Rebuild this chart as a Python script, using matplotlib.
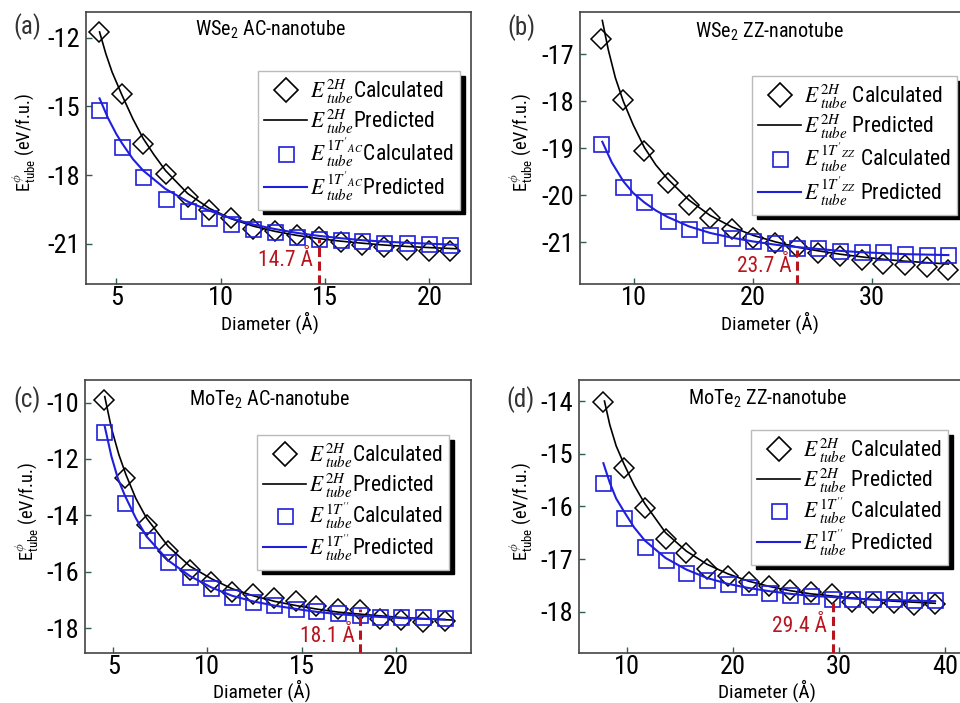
import matplotlib
matplotlib.use("Agg")
import matplotlib.pyplot as plt
import matplotlib.font_manager as fm
from matplotlib.lines import Line2D

# pick a narrow sans face if one is installed
_names = {f.name for f in fm.fontManager.ttflist}
_narrow = None
_stretch = 'normal'
for c in ['Liberation Sans Narrow', 'Arial Narrow', 'Roboto Condensed', 'Open Sans Condensed',
          'Noto Sans Condensed', 'DejaVu Sans Condensed']:
    if c in _names:
        _narrow = c
        break
if _narrow is None:
    for f in fm.fontManager.ttflist:
        if str(f.stretch) in ('condensed', 'semi-condensed') and f.style == 'normal' and \
                f.name in ('Roboto', 'Noto Sans', 'Open Sans', 'DejaVu Sans', 'Liberation Sans', 'Lato', 'Inter'):
            _narrow = f.name
            _stretch = str(f.stretch)
            break
if _narrow is None:
    _narrow = 'Liberation Sans'
    _scale = 0.86
else:
    _scale = 1.0

plt.rcParams['font.family'] = [_narrow, 'Liberation Sans', 'DejaVu Sans']
plt.rcParams['font.stretch'] = _stretch
plt.rcParams['axes.unicode_minus'] = False
plt.rcParams['mathtext.fontset'] = 'custom'
plt.rcParams['mathtext.rm'] = _narrow
plt.rcParams['mathtext.it'] = _narrow + ':italic'
plt.rcParams['mathtext.bf'] = _narrow + ':bold'

# ---------------- data ----------------
# (a) WSe2 AC
diam_a = [4.17, 5.27, 6.29, 7.36, 8.42, 9.46, 10.5, 11.55, 12.59, 13.66, 14.71, 15.75, 16.8, 17.84, 18.91, 19.98, 21.0]
e2h_a = [-11.76, -14.47, -16.64, -17.97, -18.95, -19.53, -19.89, -20.33, -20.43, -20.62, -20.69, -20.91, -21.06, -21.13, -21.27, -21.33, -21.3]
e1t_a = [-15.16, -16.76, -18.07, -19.02, -19.56, -19.85, -20.15, -20.35, -20.5, -20.72, -20.77, -20.81, -20.87, -20.94, -20.97, -21.0, -21.03]
pred2h_x_a = [4.2, 4.5, 4.8, 5.27, 5.8, 6.29, 6.8, 7.36, 8.42, 9.46, 10.5, 11.55, 12.59, 13.66, 14.71, 15.75, 16.8, 17.84, 18.91, 19.98, 21.0, 21.3]
pred2h_y_a = [-11.75, -12.7, -13.5, -14.5, -15.55, -16.4, -17.1, -17.8, -18.8, -19.45, -19.9, -20.22, -20.45, -20.63, -20.77, -20.88, -20.97, -21.05, -21.11, -21.16, -21.2, -21.21]
pred1t_x_a = [4.2, 4.6, 5.0, 5.27, 5.8, 6.29, 7.36, 8.42, 9.46, 10.5, 11.55, 12.59, 13.66, 14.71, 15.75, 16.8, 17.84, 18.91, 19.98, 21.0, 21.3]
pred1t_y_a = [-14.65, -15.5, -16.2, -16.6, -17.3, -17.8, -18.6, -19.15, -19.55, -19.88, -20.15, -20.35, -20.52, -20.65, -20.75, -20.84, -20.9, -20.95, -20.99, -21.03, -21.04]

# (b) WSe2 ZZ
diam_b = [7.2, 9.07, 10.84, 12.81, 14.63, 16.38, 18.26, 20.03, 21.86, 23.68, 25.5, 27.33, 29.16, 30.98, 32.8, 34.63, 36.45]
e2h_b = [-16.67, -17.98, -19.05, -19.73, -20.21, -20.48, -20.72, -20.9, -21.01, -21.09, -21.23, -21.3, -21.38, -21.45, -21.49, -21.52, -21.59]
e1t_b = [-18.9, -19.83, -20.14, -20.54, -20.72, -20.84, -20.91, -20.97, -21.02, -21.11, -21.11, -21.18, -21.2, -21.21, -21.25, -21.27, -21.27]
pred2h_x_b = [7.3, 7.8, 8.4, 9.07, 9.9, 10.84, 11.8, 12.8, 14.6, 16.4, 18.2, 20.0, 21.9, 23.7, 25.5, 27.3, 29.2, 31.0, 32.8, 34.6, 36.45]
pred2h_y_b = [-16.28, -16.9, -17.5, -18.0, -18.5, -18.98, -19.35, -19.65, -20.1, -20.43, -20.67, -20.85, -20.99, -21.1, -21.18, -21.25, -21.31, -21.36, -21.4, -21.43, -21.46]
pred1t_x_b = [7.3, 8.1, 9.07, 9.9, 10.84, 11.8, 12.8, 14.6, 16.4, 18.2, 20.0, 21.9, 23.7, 25.5, 27.3, 29.2, 31.0, 32.8, 34.6, 36.45]
pred1t_y_b = [-18.86, -19.3, -19.7, -19.95, -20.15, -20.32, -20.46, -20.66, -20.8, -20.9, -20.98, -21.05, -21.1, -21.14, -21.18, -21.21, -21.23, -21.25, -21.26, -21.27]

# (c) MoTe2 AC
diam_c = [4.51, 5.64, 6.77, 7.92, 9.07, 10.21, 11.31, 12.43, 13.55, 14.7, 15.79, 16.94, 18.09, 19.15, 20.3, 21.45, 22.6]
e2h_c = [-9.9, -12.68, -14.34, -15.28, -15.93, -16.35, -16.7, -16.8, -16.94, -17.03, -17.2, -17.32, -17.37, -17.68, -17.72, -17.77, -17.73]
e1t_c = [-11.06, -13.55, -14.87, -15.67, -16.2, -16.56, -16.88, -17.06, -17.17, -17.32, -17.39, -17.47, -17.53, -17.59, -17.59, -17.62, -17.65]
pred2h_x_c = [4.55, 4.9, 5.3, 5.67, 6.2, 6.77, 7.92, 9.07, 10.22, 11.31, 12.43, 13.58, 14.73, 15.79, 16.94, 18.09, 19.15, 20.3, 21.45, 22.6, 23.0]
pred2h_y_c = [-9.79, -10.9, -11.85, -12.55, -13.4, -14.1, -15.1, -15.8, -16.25, -16.6, -16.85, -17.05, -17.2, -17.32, -17.43, -17.5, -17.56, -17.62, -17.66, -17.7, -17.71]
pred1t_x_c = [4.55, 4.9, 5.25, 5.62, 6.2, 6.77, 7.92, 9.07, 10.2, 11.31, 12.43, 13.58, 14.73, 15.79, 16.94, 18.09, 19.15, 20.3, 21.45, 22.6]
pred1t_y_c = [-10.85, -11.9, -12.7, -13.3, -14.1, -14.75, -15.6, -16.15, -16.55, -16.85, -17.05, -17.2, -17.32, -17.42, -17.5, -17.56, -17.6, -17.64, -17.67, -17.69]

# (d) MoTe2 ZZ
diam_d = [7.8, 9.75, 11.71, 13.66, 15.62, 17.57, 19.52, 21.48, 23.43, 25.39, 27.34, 29.3, 31.25, 33.2, 35.16, 37.11, 39.07]
e2h_d = [-14.01, -15.28, -16.03, -16.61, -16.89, -17.18, -17.32, -17.43, -17.51, -17.58, -17.62, -17.66, -17.81, -17.84, -17.84, -17.87, -17.86]
e1t_d = [-15.56, -16.23, -16.77, -17.02, -17.26, -17.4, -17.48, -17.54, -17.65, -17.68, -17.71, -17.75, -17.75, -17.76, -17.76, -17.78, -17.78]
pred2h_x_d = [7.9, 8.4, 9.0, 9.75, 10.7, 11.71, 13.66, 15.62, 17.57, 19.52, 21.48, 23.43, 25.39, 27.34, 29.3, 31.25, 33.2, 35.16, 37.11, 39.07]
pred2h_y_d = [-14.0, -14.45, -14.85, -15.2, -15.6, -15.95, -16.5, -16.85, -17.1, -17.28, -17.42, -17.52, -17.6, -17.66, -17.7, -17.74, -17.77, -17.8, -17.82, -17.84]
pred1t_x_d = [7.8, 8.4, 9.0, 9.75, 10.7, 11.71, 13.66, 15.62, 17.57, 19.52, 21.48, 23.43, 25.39, 27.34, 29.3, 31.25, 33.2, 35.16, 37.11, 39.07]
pred1t_y_d = [-15.18, -15.55, -15.85, -16.1, -16.4, -16.65, -16.98, -17.2, -17.36, -17.47, -17.55, -17.61, -17.66, -17.7, -17.72, -17.75, -17.77, -17.78, -17.79, -17.8]

cross_d = [14.7, 23.7, 18.1, 29.4]
cross_top = [-20.77, -21.16, -17.33, -17.75]
cross_text = ['14.7 Å', '23.7 Å', '18.1 Å', '29.4 Å']
panel_tags = ['(a)', '(b)', '(c)', '(d)']
panel_titles = ['WSe$_2$ AC-nanotube', 'WSe$_2$ ZZ-nanotube', 'MoTe$_2$ AC-nanotube', 'MoTe$_2$ ZZ-nanotube']
xticks = [[5, 10, 15, 20], [10, 20, 30], [5, 10, 15, 20], [10, 20, 30, 40]]
yticks = [[-12, -15, -18, -21], [-17, -18, -19, -20, -21], [-10, -12, -14, -16, -18], [-14, -15, -16, -17, -18]]
phase_1t = [r"1T'_{AC}", r"1T'_{ZZ}", r"1T''", r"1T''"]
label_gap = ['', ' ', '', ' ']

# --------------- layout ---------------
W, H = 960, 703
rects_px = [(86, 12, 471, 284), (580, 12, 962, 284), (85, 380, 471, 653.3), (579, 380, 962, 653.3)]
xlims = [(3.55, 22.0), (5.42, 37.6), (3.5, 24.0), (5.5, 41.6)]
ylims = [(-22.75, -10.88), (-21.885, -16.1), (-18.89, -9.2), (-18.79, -13.6)]
legend_px = [(257.7, 71), (751.7, 76), (256.7, 435), (750.7, 430)]
text_y = [-21.71, -21.52, -18.3, -18.29]
xlabel_pos = [(0.478, -0.142), (0.497, -0.142), (0.458, -0.137), (0.49, -0.137)]
ylabel_x = [-0.16, -0.155, -0.15, -0.152]
title_px = [(270, 30), (770, 32), (270, 400), (768, 399)]
tag_px = [(27, 27), (521, 28), (27, 400), (521, 400)]

data = [
    (diam_a, e2h_a, e1t_a, pred2h_x_a, pred2h_y_a, pred1t_x_a, pred1t_y_a),
    (diam_b, e2h_b, e1t_b, pred2h_x_b, pred2h_y_b, pred1t_x_b, pred1t_y_b),
    (diam_c, e2h_c, e1t_c, pred2h_x_c, pred2h_y_c, pred1t_x_c, pred1t_y_c),
    (diam_d, e2h_d, e1t_d, pred2h_x_d, pred2h_y_d, pred1t_x_d, pred1t_y_d),
]

blue = '#1f1fdc'
red = '#b8141e'
spine_c = '#444444'
s = _scale

fig = plt.figure(figsize=(W / 100, H / 100), dpi=100)
for i in range(4):
    x0, y0, x1, y1 = rects_px[i]
    ax = fig.add_axes([x0 / W, 1 - y1 / H, (x1 - x0) / W, (y1 - y0) / H])
    dx, e2h, e1t, p2x, p2y, p1x, p1y = data[i]
    ax.plot(dx, e2h, linestyle='none', marker='D', ms=10.0, mfc='none', mec='black', mew=1.1, zorder=3)
    ax.plot(p2x, p2y, color='black', lw=1.2, zorder=4)
    ax.plot(dx, e1t, linestyle='none', marker='s', ms=10.8, mfc='none', mec=blue, mew=1.2, zorder=5)
    ax.plot(p1x, p1y, color=blue, lw=1.5, zorder=6)
    ax.set_xlim(*xlims[i])
    ax.set_ylim(*ylims[i])
    ax.set_xticks(xticks[i])
    ax.set_yticks(yticks[i])
    ax.tick_params(direction='in', length=4, width=1, color='#2a6050', labelsize=19 * s, pad=1.5)
    ax.tick_params(axis='y', pad=4)
    for sp in ax.spines.values():
        sp.set_color(spine_c)
        sp.set_linewidth(1.2)
    ax.set_xlabel('Diameter (Å)', fontsize=14 * s)
    ax.xaxis.set_label_coords(*xlabel_pos[i])
    ax.xaxis.label.set_va('center')
    ax.set_ylabel(r'E$^{\phi}_{\mathrm{tube}}$ (eV/f.u.)', fontsize=13.2 * s)
    ax.yaxis.set_label_coords(ylabel_x[i], 0.52)
    ax.yaxis.label.set_va('center')
    # crossover marker
    ax.vlines(cross_d[i], ylims[i][0], cross_top[i], colors=red, linestyles=(0, (3, 1.5)), lw=2.2, zorder=7)
    ax.text(cross_d[i] - 0.25 * (xlims[i][1] - xlims[i][0]) / 18.0, text_y[i], cross_text[i],
            color=red, fontsize=15.5 * s, ha='right', va='center', zorder=8)
    fig.text(title_px[i][0] / W, 1 - title_px[i][1] / H, panel_titles[i], fontsize=14.5 * s,
             ha='center', va='center')
    fig.text(tag_px[i][0] / W, 1 - tag_px[i][1] / H, panel_tags[i], fontsize=18 * s,
             ha='center', va='center', color='#333333')

    gap = label_gap[i]
    sup = phase_1t[i]
    handles = [
        Line2D([], [], linestyle='none', marker='D', ms=12.5, mfc='none', mec='black', mew=1.2),
        Line2D([], [], color='black', lw=1.2),
        Line2D([], [], linestyle='none', marker='s', ms=10.8, mfc='none', mec=blue, mew=1.2),
        Line2D([], [], color=blue, lw=1.5),
    ]
    labels = [
        r'$E\,^{2H}_{tube}$' + gap + 'Calculated',
        r'$E\,^{2H}_{tube}$' + gap + 'Predicted',
        r'$E\,^{' + sup + r'}_{tube}$' + gap + 'Calculated',
        r'$E\,^{' + sup + r'}_{tube}$' + gap + 'Predicted',
    ]
    lx, ly = legend_px[i]
    leg = ax.legend(handles, labels, loc='upper left', bbox_to_anchor=(lx / W, 1 - ly / H),
                    bbox_transform=fig.transFigure, fontsize=15.5 * s, frameon=True, fancybox=False,
                    shadow={'ox': 3.5, 'oy': -3.5, 'color': 'black', 'alpha': 1.0},
                    handlelength=2.0, handletextpad=0.12, labelspacing=0.05, borderpad=0.3,
                    borderaxespad=0)
    for t in leg.get_texts():
        t.set_math_fontfamily('stix')
    leg.get_frame().set_edgecolor('#bbbbbb')
    leg.get_frame().set_linewidth(1.0)
    leg.set_zorder(10)

fig.savefig('out.png', dpi=100)
